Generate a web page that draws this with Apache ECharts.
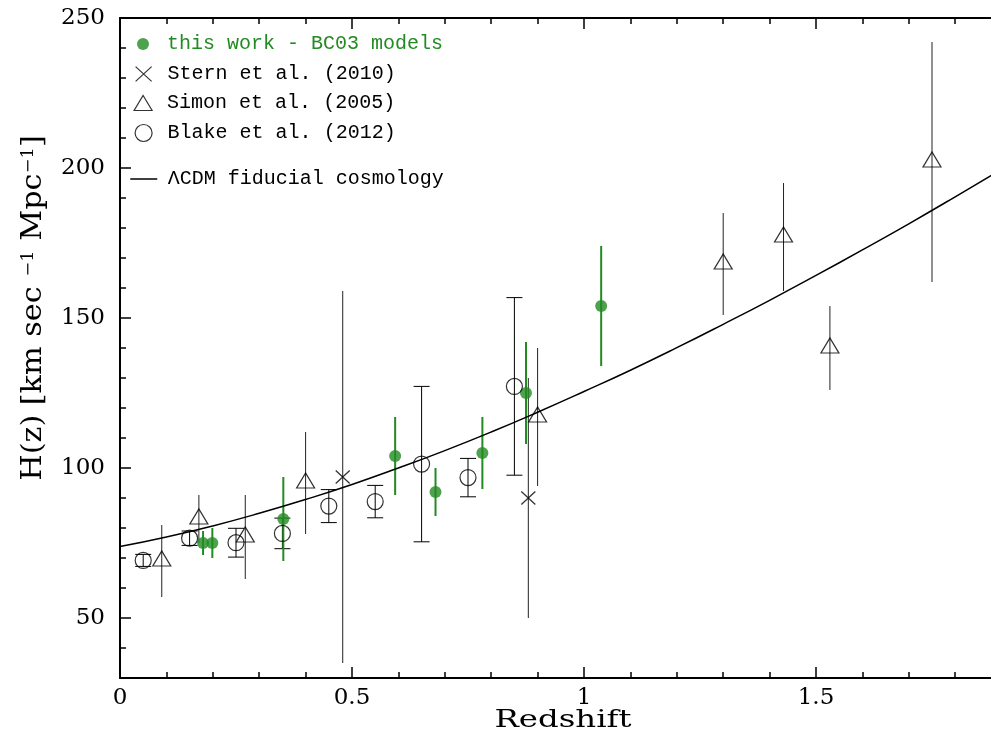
<!DOCTYPE html>
<html><head><meta charset="utf-8">
<script src="https://cdn.jsdelivr.net/npm/echarts@6/dist/echarts.min.js"></script>
<style>html,body{margin:0;padding:0;background:#fff}#c{width:991px;height:747px}</style>
</head><body><div id="c"></div>
<script>
// ---- data ----
const thisWorkZ   = [0.179, 0.199, 0.352, 0.593, 0.680, 0.781, 0.875, 1.037];
const thisWorkH   = [75, 75, 83, 104, 92, 105, 125, 154];
const thisWorkErr = [4, 5, 14, 13, 8, 12, 17, 20];

const sternZ   = [0.48, 0.88];
const sternH   = [97, 90];
const sternErr = [62, 40];

const simonZ   = [0.09, 0.17, 0.27, 0.40, 0.90, 1.30, 1.43, 1.53, 1.75];
const simonH   = [69, 83, 77, 95, 117, 168, 177, 140, 202];
const simonErr = [12, 8, 14, 17, 23, 17, 18, 14, 40];

const blakeZ   = [0.05, 0.15, 0.25, 0.35, 0.45, 0.55, 0.65, 0.75, 0.85];
const blakeH   = [69.2, 76.6, 75.1, 78.2, 87.3, 88.8, 101.3, 96.8, 127.2];
const blakeErr = [2.0, 2.4, 4.8, 5.1, 5.5, 5.4, 25.9, 6.4, 29.6];

const lcdmZ = [0, 0.1, 0.2, 0.3, 0.4, 0.5, 0.6, 0.7, 0.8, 0.9, 1.0, 1.1, 1.2, 1.3, 1.4, 1.5, 1.6, 1.7, 1.8, 1.9];
const lcdmH = [73.8, 77.0, 80.7, 84.9, 89.5, 94.5, 100.0, 105.8, 112.0, 118.6, 125.5, 132.6, 140.1, 147.9, 155.9, 164.2, 172.7, 181.4, 190.4, 199.6];

const xTicks = [0, 0.5, 1, 1.5, 2];
const yMajorTicks = [50, 100, 150, 200, 250];

const legendNames = ['this work - BC03 models', 'Stern et al. (2010)', 'Simon et al. (2005)', 'Blake et al. (2012)', '\u039BCDM fiducial cosmology'];

// ---- styling ----
const GREEN = '#228B22';
const MONO = '"Liberation Mono", "DejaVu Sans Mono", monospace';
const SERIF = '"DejaVu Serif", serif';
const CROSS = 'path://M0,0L14,13M14,0L0,13';
const TRI = 'path://M9,0L18,15L0,15Z';

function pts(z, h) { return z.map((x, i) => [x, h[i]]); }
function errData(z, h, e) { return z.map((x, i) => [x, h[i] - e[i], h[i] + e[i]]); }
function errBar(color, width, cap) {
  return function (params, api) {
    const x = api.value(0);
    const lo = api.coord([x, api.value(1)]);
    const hi = api.coord([x, api.value(2)]);
    const style = { stroke: color, lineWidth: width, fill: null };
    const ch = [{ type: 'line', shape: { x1: lo[0], y1: lo[1], x2: hi[0], y2: hi[1] }, style }];
    if (cap) {
      ch.push({ type: 'line', shape: { x1: hi[0] - cap, y1: hi[1], x2: hi[0] + cap, y2: hi[1] }, style });
      ch.push({ type: 'line', shape: { x1: lo[0] - cap, y1: lo[1], x2: lo[0] + cap, y2: lo[1] }, style });
    }
    return { type: 'group', children: ch };
  };
}
function errSeries(z, h, e, color, width, cap) {
  return { type: 'custom', renderItem: errBar(color, width, cap), data: errData(z, h, e),
           encode: { x: 0, y: [1, 2] }, z: 2, silent: true, clip: true };
}

const axisLineStyle = { color: '#000', width: 2 };
const tickStyle = { color: '#000', width: 1.5 };
function xAx(pos, labels) {
  return {
    type: 'value', position: pos, min: xTicks[0], max: xTicks[xTicks.length - 1], interval: xTicks[1] - xTicks[0],
    axisLine: { show: true, onZero: false, lineStyle: axisLineStyle },
    axisTick: { show: true, inside: true, length: 11, lineStyle: tickStyle },
    minorTick: { show: true, splitNumber: 5, length: 6, lineStyle: tickStyle },
    axisLabel: { show: labels, margin: 9, color: '#000', fontFamily: SERIF, fontSize: 23, formatter: v => String(v) },
    splitLine: { show: false }, minorSplitLine: { show: false }
  };
}

// icon centred at x = 143, text starting at x = 167
function legendItem(name, rowCenter, w, h, color, extra) {
  const left = 143 - w / 2;
  const gap = 167 - (left + w + 5);
  return Object.assign({
    data: [{ name: name }], left: left, top: rowCenter - 10, orient: 'vertical', padding: 0,
    itemWidth: w, itemHeight: h, selectedMode: false, symbolKeepAspect: true,
    formatter: n => '{p| }{t|' + n + '}',
    textStyle: { fontFamily: MONO, fontSize: 20, color: color,
                 rich: { p: { width: gap, fontFamily: MONO, fontSize: 20 },
                         t: { fontFamily: MONO, fontSize: 20, color: color } } },
    itemStyle: { color: 'transparent', borderColor: '#000', borderWidth: 1.2 }
  }, extra || {});
}

const option = {
  animation: false,
  backgroundColor: '#fff',
  grid: { left: 120, top: 18, width: 928, height: 660, containLabel: false, outerBoundsMode: 'none' },
  xAxis: [xAx('bottom', true), xAx('top', false)],
  yAxis: [
    {
      type: 'value', position: 'left', min: 30, max: 250, interval: 10,
      axisLine: { show: true, onZero: false, lineStyle: axisLineStyle },
      axisTick: { show: true, inside: true, length: 6, lineStyle: tickStyle },
      axisLabel: { show: true, margin: 15, color: '#000', fontFamily: SERIF, fontSize: 23,
                   formatter: v => (yMajorTicks.indexOf(v) >= 0 ? String(v) : '') },
      splitLine: { show: false }
    },
    {
      type: 'value', position: 'left', min: 30, max: 250, interval: 10,
      axisLine: { show: false },
      axisTick: { show: true, inside: true, length: 11, lineStyle: tickStyle, customValues: yMajorTicks },
      axisLabel: { show: false },
      splitLine: { show: false }
    }
  ],
  legend: [
    legendItem(legendNames[0], 44, 12, 12, GREEN, { itemStyle: { color: GREEN, borderWidth: 0 } }),
    legendItem(legendNames[1], 74, 16, 15, '#000'),
    legendItem(legendNames[2], 103, 19, 15, '#000'),
    legendItem(legendNames[3], 133, 17, 17, '#000'),
    legendItem(legendNames[4], 179, 27, 14, '#000', {
      lineStyle: { color: '#000', width: 1.5 },
      itemStyle: { color: 'transparent', borderColor: 'transparent', borderWidth: 0 }
    })
  ],
  series: [
    errSeries(sternZ, sternH, sternErr, '#222', 1, 0),
    errSeries(simonZ, simonH, simonErr, '#222', 1, 0),
    errSeries(blakeZ, blakeH, blakeErr, '#000', 1, 8),
    errSeries(thisWorkZ, thisWorkH, thisWorkErr, GREEN, 2, 0),
    {
      name: legendNames[4], type: 'line', data: pts(lcdmZ, lcdmH), smooth: true, symbol: 'none',
      lineStyle: { color: '#000', width: 1.5 }, z: 3, silent: true
    },
    {
      name: legendNames[0], type: 'scatter', data: pts(thisWorkZ, thisWorkH), symbol: 'circle', symbolSize: 12,
      itemStyle: { color: GREEN }, z: 4
    },
    {
      name: legendNames[1], type: 'scatter', data: pts(sternZ, sternH), symbol: CROSS, symbolSize: [14, 13],
      itemStyle: { color: 'transparent', borderColor: '#000', borderWidth: 1.2 }, z: 4
    },
    {
      name: legendNames[2], type: 'scatter', data: pts(simonZ, simonH), symbol: TRI, symbolSize: [18, 15],
      symbolOffset: [0, -2.5],
      itemStyle: { color: 'transparent', borderColor: '#000', borderWidth: 1.2 }, z: 4
    },
    {
      name: legendNames[3], type: 'scatter', data: pts(blakeZ, blakeH), symbol: 'circle', symbolSize: 16,
      itemStyle: { color: 'transparent', borderColor: '#000', borderWidth: 1.2 }, z: 4
    }
  ],
  graphic: [
    {
      type: 'text', x: 34, y: 308, rotation: Math.PI / 2, scaleX: 1.12,
      style: {
        text: '{a|H(z) [km sec }{s|\u22121}{a| Mpc}{s|\u22121}{a|]}',
        align: 'center', verticalAlign: 'middle',
        rich: {
          a: { fontFamily: SERIF, fontSize: 27, fill: '#000' },
          s: { fontFamily: SERIF, fontSize: 16, fill: '#000', verticalAlign: 'top' }
        }
      }
    },
    {
      type: 'text', x: 563, y: 721, scaleX: 1.35,
      style: { text: 'Redshift', fontFamily: SERIF, fontSize: 24, fill: '#000', align: 'center', verticalAlign: 'middle' }
    }
  ]
};

const chart = echarts.init(document.getElementById('c'));
chart.setOption(option);
</script>
</body></html>
